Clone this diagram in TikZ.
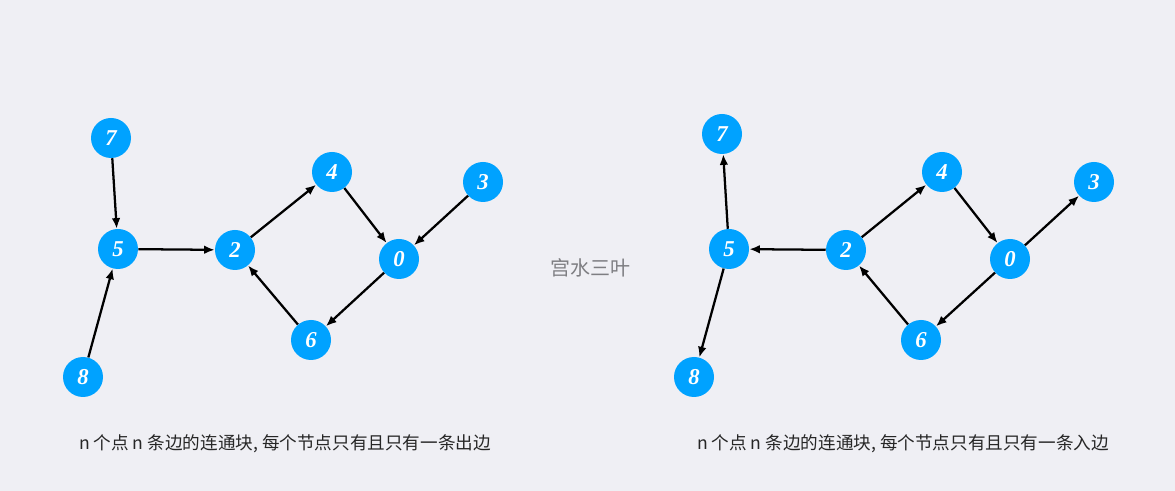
\documentclass[tikz,border=0pt]{standalone}
\usepackage{fontspec}
\setmainfont{Liberation Serif}
\newfontfamily\cjk{Noto Sans CJK SC}
\usetikzlibrary{arrows,arrows.meta}
\definecolor{bgcol}{HTML}{EFEFF4}
\definecolor{nodeblue}{HTML}{00A2FF}
\definecolor{markgray}{HTML}{7E7E82}

\begin{document}
\begin{tikzpicture}[x=0.75pt,y=-0.75pt,>={Latex[length=8pt,width=6.5pt]}]
			\tikzstyle{vert}=[circle,fill=nodeblue,minimum size=30pt,inner sep=0pt,text=white,font=\fontsize{17}{17}\selectfont\bfseries\itshape]
			\tikzstyle{edge}=[line width=1.7pt,->]
			\tikzstyle{caption}=[font=\cjk\fontsize{13.2}{15}\selectfont,text=black!85]
			\fill[bgcol](0,0) rectangle (1175,491);
			%Left Graph
			\node[vert](l7) at (111,138){7};
			\node[vert](l5) at (118,249){5};
			\node[vert](l8) at (83,377){8};
			\node[vert](l2) at (235,250){2};
			\node[vert](l4) at (332,172){4};
			\node[vert](l0) at (399,259){0};
			\node[vert](l3) at (483,182){3};
			\node[vert](l6) at (311,340){6};
			%Right Graph
			\node[vert](r7) at (722,134){7};
			\node[vert](r5) at (729,249){5};
			\node[vert](r8) at (694,377){8};
			\node[vert](r2) at (846,250){2};
			\node[vert](r4) at (942,172){4};
			\node[vert](r0) at (1010,259){0};
			\node[vert](r3) at (1094,182){3};
			\node[vert](r6) at (921,340){6};
			%Arrows Out
			\draw[edge](l7)--(l5);
			\draw[edge](l8)--(l5);
			\draw[edge](l5)--(l2);
			\draw[edge](l2)--(l4);
			\draw[edge](l4)--(l0);
			\draw[edge](l3)--(l0);
			\draw[edge](l0)--(l6);
			\draw[edge](l6)--(l2);
			%Arrows In
			\draw[edge](r5)--(r7);
			\draw[edge](r5)--(r8);
			\draw[edge](r2)--(r5);
			\draw[edge](r2)--(r4);
			\draw[edge](r4)--(r0);
			\draw[edge](r0)--(r3);
			\draw[edge](r0)--(r6);
			\draw[edge](r6)--(r2);
			%Texts
			\node[caption](capl) at (285,444){n 个点 n 条边的连通块, 每个节点只有且只有一条出边};
			\node[caption](capr) at (903,444){n 个点 n 条边的连通块, 每个节点只有且只有一条入边};
			\node[font=\cjk\fontsize{15}{15}\selectfont,text=markgray](mark) at (590,268){宫水三叶};
\end{tikzpicture}
\end{document}
